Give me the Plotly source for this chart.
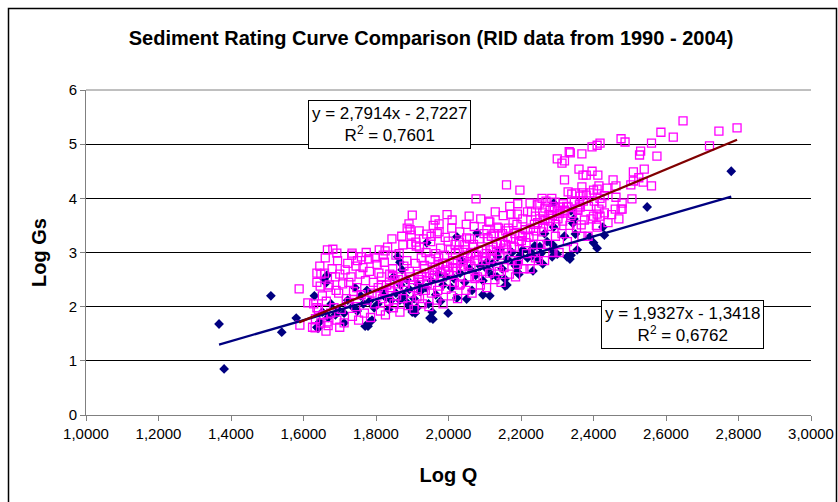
import plotly.graph_objects as go

# ---------------- data ----------------
# Series 1: dark-blue diamonds (Log Q, Log Gs)
blue_pts = [
    (1.367, 1.68), (1.381, 0.85), (1.51, 2.20), (1.54, 1.53), (1.58, 1.79), (1.63, 2.20),
    (2.78, 4.50), (2.548, 3.84),
    (1.665, 2.58), (1.662, 2.44), (1.657, 2.51), (1.712, 1.70), (1.637, 1.62), (1.64, 1.60),
    (2.29, 3.91), (2.338, 3.77), (2.346, 3.62), (2.343, 3.54), (2.35, 3.34), (2.426, 3.47),
    (2.43, 3.32), (2.39, 3.29), (2.40, 3.18), (2.41, 3.08), (2.355, 3.05), (2.32, 3.30),
    (2.288, 3.14), (2.286, 2.92), (2.30, 2.97), (2.327, 2.92), (2.335, 2.88), (2.338, 2.95),
    (2.26, 2.79), (2.247, 2.86), (2.233, 2.66), (2.225, 3.02), (2.23, 2.94), (2.252, 3.11),
    (2.194, 2.60), (2.156, 2.51), (2.156, 2.38), (2.19, 2.82), (2.18, 2.80), (2.29, 3.47),
    (2.023, 3.29), (2.079, 3.36), (2.106, 2.82), (2.12, 2.58), (2.134, 2.55), (2.161, 2.40),
    (2.19, 2.64), (2.095, 2.22), (2.114, 2.20), (2.05, 2.14), (2.023, 2.16), (1.999, 1.88),
    (1.955, 1.90), (1.949, 1.79), (1.908, 1.88), (1.894, 1.98), (1.783, 1.72), (1.77, 1.64),
    (1.872, 2.68), (1.866, 2.82), (1.94, 3.18), (1.86, 2.92), (1.778, 1.64), (1.789, 1.75),
    (1.90, 1.90), (1.913, 1.98), (1.957, 1.77), (1.866, 2.12), (1.886, 2.07),
    (1.645, 1.72), (1.668, 1.80), (1.652, 1.90), (1.688, 1.85), (1.676, 2.05), (1.695, 1.95),
    (1.712, 1.88), (1.735, 2.00), (1.722, 2.12), (1.748, 1.92), (1.765, 2.05), (1.758, 2.20),
    (1.782, 2.10), (1.795, 1.98), (1.775, 2.30), (1.742, 2.35),
    (1.805, 2.05), (1.825, 2.18), (1.818, 2.30), (1.842, 2.12), (1.855, 2.25), (1.868, 2.40),
    (1.835, 1.95), (1.878, 2.20), (1.892, 2.32), (1.885, 2.50), (1.848, 2.55),
    (1.905, 2.15), (1.922, 2.28), (1.915, 2.42), (1.938, 2.35), (1.952, 2.48), (1.965, 2.22),
    (1.972, 2.60), (1.985, 2.40), (1.993, 2.55), (1.945, 2.05), (1.978, 2.10),
    (2.008, 2.35), (2.015, 2.52), (2.032, 2.62), (2.045, 2.45), (2.058, 2.70), (2.065, 2.30),
    (2.075, 2.58), (2.088, 2.75), (2.095, 2.48), (2.038, 2.85),
    (2.108, 2.68), (2.122, 2.80), (2.135, 2.92), (2.148, 2.70), (2.162, 2.88), (2.175, 3.00),
    (2.185, 2.75), (2.198, 2.95), (2.142, 3.05),
    (2.205, 3.05), (2.218, 2.90), (2.238, 3.12), (2.255, 2.98), (2.272, 3.20), (2.285, 3.05),
    (2.265, 3.35),
]

# Series 2: magenta open squares (Log Q, Log Gs)
magenta_pts = [
    (2.647, 5.43), (2.586, 5.22), (2.62, 5.13), (2.746, 5.24), (2.796, 5.30), (2.72, 4.97),
    (2.56, 5.02), (2.575, 4.78), (2.53, 4.87), (2.527, 4.80), (2.487, 5.04), (2.476, 5.10),
    (2.54, 4.54), (2.51, 4.49), (2.525, 4.38), (2.51, 4.32), (2.537, 4.30), (2.503, 4.25),
    (2.56, 4.23), (2.506, 3.99), (2.479, 3.91), (2.479, 3.80),
    (2.418, 5.02), (2.41, 4.98), (2.396, 4.95), (2.368, 4.82), (2.333, 4.86), (2.336, 4.84),
    (2.30, 4.73), (2.32, 4.69), (2.313, 4.65), (2.36, 4.54), (2.396, 4.50), (2.38, 4.43),
    (2.371, 4.43), (2.412, 4.43), (2.32, 4.34), (2.454, 4.34), (2.415, 4.23), (2.437, 4.19),
    (2.462, 4.23), (2.368, 4.21), (2.40, 4.15), (2.41, 4.17), (2.16, 4.25), (2.197, 4.15),
    (2.33, 4.12), (2.34, 4.08), (2.35, 4.10), (2.363, 4.04), (2.371, 4.10), (2.38, 4.06),
    (2.39, 4.10), (2.285, 4.00), (2.294, 3.93), (2.418, 4.00), (2.423, 3.91), (2.462, 4.02),
    (2.46, 3.80), (2.476, 3.80), (2.252, 3.91), (2.225, 3.91), (2.266, 3.82), (2.28, 3.78),
    (2.26, 3.73), (2.24, 3.67), (2.308, 3.84), (2.32, 3.78), (2.33, 3.84), (2.30, 3.75),
    (2.363, 3.84), (2.357, 3.78), (2.366, 3.51), (2.41, 3.71), (2.40, 3.67), (2.418, 3.67),
    (2.43, 3.73), (2.41, 3.47),
    (2.076, 3.99), (1.90, 3.69), (2.057, 3.67), (2.01, 3.60), (1.974, 3.53), (1.963, 3.60),
    (1.891, 3.53), (1.974, 3.38), (1.94, 3.34), (1.952, 3.30), (1.894, 3.42), (1.897, 3.32),
    (2.172, 3.71), (2.19, 3.71), (2.114, 3.56), (2.134, 3.47), (2.106, 3.42), (2.05, 3.27),
    (2.03, 3.19), (1.999, 3.21), (1.874, 3.14), (1.91, 3.19), (1.92, 3.10), (1.825, 3.03),
    (1.588, 2.33), (1.612, 2.07), (1.637, 1.98), (1.681, 3.06), (1.692, 2.99), (1.66, 2.90),
    (1.734, 2.99), (1.637, 2.62), (1.648, 2.60), (1.646, 2.38), (1.668, 2.36), (1.665, 1.72),
    (1.632, 1.61), (1.662, 1.55), (1.59, 1.66), (1.70, 1.62),
    (1.625, 1.62), (1.648, 1.70), (1.633, 1.78), (1.655, 1.85), (1.641, 1.95), (1.628, 2.05),
    (1.652, 2.20), (1.637, 2.45), (1.658, 2.62), (1.645, 2.75),
    (1.668, 1.65), (1.692, 1.75), (1.675, 1.88), (1.684, 1.98), (1.663, 2.10), (1.697, 2.25),
    (1.671, 2.40), (1.688, 2.55), (1.679, 2.70), (1.694, 2.85), (1.666, 3.05),
    (1.712, 1.70), (1.735, 1.82), (1.704, 1.95), (1.726, 2.08), (1.718, 2.15), (1.738, 2.28),
    (1.708, 2.42), (1.731, 2.55), (1.715, 2.68), (1.722, 2.80), (1.733, 2.95),
    (1.752, 1.75), (1.768, 1.88), (1.744, 2.00), (1.776, 2.12), (1.759, 2.22), (1.747, 2.35),
    (1.771, 2.48), (1.756, 2.60), (1.764, 2.72), (1.749, 2.85), (1.773, 3.00),
    (1.785, 1.80), (1.812, 1.92), (1.796, 2.05), (1.818, 2.15), (1.789, 2.25), (1.806, 2.35),
    (1.793, 2.45), (1.815, 2.55), (1.782, 2.65), (1.803, 2.78), (1.798, 2.90), (1.809, 3.05),
    (1.826, 1.85), (1.848, 1.98), (1.835, 2.10), (1.857, 2.20), (1.841, 2.30), (1.829, 2.40),
    (1.852, 2.50), (1.838, 2.60), (1.846, 2.70), (1.823, 2.82), (1.855, 2.95), (1.832, 3.10),
    (1.844, 3.25),
    (1.866, 1.90), (1.889, 2.02), (1.874, 2.15), (1.895, 2.25), (1.862, 2.35), (1.881, 2.45),
    (1.869, 2.55), (1.892, 2.65), (1.877, 2.75), (1.885, 2.85), (1.864, 2.98), (1.898, 3.15),
    (1.871, 3.30), (1.886, 3.45),
    (1.905, 1.95), (1.928, 2.05), (1.913, 2.18), (1.936, 2.30), (1.902, 2.40), (1.921, 2.50),
    (1.917, 2.60), (1.933, 2.70), (1.908, 2.80), (1.925, 2.90), (1.938, 3.00), (1.911, 3.12),
    (1.931, 3.25), (1.919, 3.40),
    (1.946, 2.00), (1.968, 2.12), (1.953, 2.25), (1.975, 2.38), (1.942, 2.48), (1.961, 2.58),
    (1.957, 2.68), (1.972, 2.78), (1.949, 2.88), (1.965, 2.98), (1.978, 3.08), (1.951, 3.20),
    (1.969, 3.35), (1.958, 3.50),
    (1.985, 2.05), (2.008, 2.20), (1.993, 2.32), (2.016, 2.45), (1.982, 2.55), (2.001, 2.65),
    (1.997, 2.75), (2.012, 2.85), (1.989, 2.95), (2.005, 3.05), (2.018, 3.15), (1.991, 3.28),
    (2.009, 3.45), (1.996, 3.70),
    (2.025, 2.15), (2.048, 2.30), (2.033, 2.42), (2.055, 2.55), (2.022, 2.65), (2.041, 2.75),
    (2.037, 2.85), (2.052, 2.95), (2.029, 3.05), (2.045, 3.15), (2.058, 3.25), (2.031, 3.38),
    (2.049, 3.52),
    (2.065, 2.25), (2.088, 2.40), (2.073, 2.52), (2.095, 2.65), (2.062, 2.75), (2.081, 2.85),
    (2.077, 2.95), (2.092, 3.05), (2.069, 3.15), (2.085, 3.25), (2.098, 3.35), (2.071, 3.48),
    (2.089, 3.62),
    (2.105, 2.35), (2.128, 2.50), (2.113, 2.62), (2.135, 2.75), (2.102, 2.85), (2.121, 2.95),
    (2.117, 3.05), (2.132, 3.15), (2.109, 3.25), (2.125, 3.35), (2.138, 3.45), (2.111, 3.58),
    (2.129, 3.75),
    (2.145, 2.45), (2.168, 2.60), (2.153, 2.72), (2.175, 2.85), (2.142, 2.95), (2.161, 3.05),
    (2.157, 3.15), (2.172, 3.25), (2.149, 3.35), (2.165, 3.45), (2.178, 3.55), (2.151, 3.68),
    (2.169, 3.85),
    (2.185, 2.55), (2.208, 2.70), (2.193, 2.85), (2.215, 2.98), (2.182, 3.10), (2.201, 3.22),
    (2.197, 3.32), (2.212, 3.42), (2.189, 3.52), (2.205, 3.62), (2.218, 3.75), (2.191, 3.90),
    (2.225, 2.70), (2.248, 2.85), (2.233, 3.00), (2.255, 3.15), (2.222, 3.28), (2.241, 3.40),
    (2.237, 3.52), (2.252, 3.62), (2.229, 3.75), (2.245, 3.88), (2.258, 4.00),
    (2.265, 2.85), (2.288, 3.00), (2.273, 3.15), (2.295, 3.30), (2.262, 3.45), (2.281, 3.58),
    (2.277, 3.70), (2.292, 3.82), (2.269, 3.95),
    (2.305, 3.00), (2.328, 3.20), (2.313, 3.35), (2.335, 3.50), (2.302, 3.62), (2.321, 3.75),
    (2.317, 3.90),
    (2.345, 3.10), (2.368, 3.30), (2.353, 3.45), (2.375, 3.60), (2.342, 3.72), (2.361, 3.88),
    (2.385, 3.30), (2.408, 3.50), (2.393, 3.62), (2.415, 3.80), (2.402, 3.95),
    (2.44, 3.55), (2.45, 3.70), (2.47, 3.62), (2.43, 4.05),
    # dense band between / around the two trendlines
    (1.803, 2.20), (1.822, 2.28), (1.815, 2.40), (1.838, 2.35), (1.851, 2.42), (1.862, 2.50),
    (1.878, 2.38), (1.893, 2.55), (1.808, 2.62), (1.845, 2.58),
    (1.903, 2.35), (1.918, 2.45), (1.927, 2.55), (1.941, 2.42), (1.947, 2.62), (1.956, 2.52),
    (1.963, 2.72), (1.977, 2.62), (1.984, 2.80), (1.992, 2.68), (1.934, 2.76), (1.973, 2.90),
    (2.003, 2.58), (2.011, 2.72), (2.024, 2.80), (2.035, 2.68), (2.043, 2.90), (2.054, 2.78),
    (2.061, 2.98), (2.072, 2.85), (2.083, 3.02), (2.094, 2.92), (2.019, 2.98), (2.067, 3.10),
    (2.046, 3.05),
    (2.104, 2.98), (2.115, 2.88), (2.123, 3.10), (2.133, 3.02), (2.144, 3.18), (2.152, 3.08),
    (2.163, 3.28), (2.174, 3.12), (2.183, 3.35), (2.195, 3.20), (2.118, 3.30), (2.158, 3.40),
    (2.204, 3.30), (2.214, 3.18), (2.226, 3.45), (2.235, 3.30), (2.246, 3.55), (2.257, 3.38),
    (2.266, 3.60), (2.276, 3.48), (2.287, 3.68), (2.296, 3.52),
    (2.306, 3.72), (2.315, 3.58), (2.326, 3.85), (2.338, 3.68), (2.347, 3.95), (2.356, 3.80),
    (2.372, 3.95), (2.386, 3.85),
    (1.70, 2.60), (1.745, 2.75), (1.78, 2.88), (1.76, 2.92), (1.82, 2.95), (1.725, 2.45),
    (1.69, 2.30),
    (1.85, 2.05), (1.92, 2.15), (1.97, 2.30), (2.03, 2.40), (2.08, 2.55), (2.14, 2.65),
    (2.19, 2.78), (2.24, 2.90),
]

blue_q = [p[0] for p in blue_pts]
blue_gs = [p[1] for p in blue_pts]
mag_q = [p[0] for p in magenta_pts]
mag_gs = [p[1] for p in magenta_pts]

# Trendline coefficients shown on the chart
mag_slope, mag_intercept, mag_r2 = 2.7914, -2.7227, 0.7601
blue_slope, blue_intercept, blue_r2 = 1.9327, -1.3418, 0.6762

x_tick_vals = [1.0, 1.2, 1.4, 1.6, 1.8, 2.0, 2.2, 2.4, 2.6, 2.8, 3.0]
x_tick_text = ["1,0000", "1,2000", "1,4000", "1,6000", "1,8000", "2,0000",
               "2,2000", "2,4000", "2,6000", "2,8000", "3,0000"]
y_tick_vals = [0, 1, 2, 3, 4, 5, 6]

title_text = "Sediment Rating Curve Comparison (RID data from 1990 - 2004)"
x_title = "Log Q"
y_title = "Log Gs"


def fmt(v):
    return f"{v:.4f}".replace(".", ",")


def eq_text(s, b, r2):
    sign = "-" if b < 0 else "+"
    return f"y = {fmt(s)}x {sign} {fmt(abs(b))}<br>R<sup>2</sup> = {fmt(r2)}"


FONT = "Liberation Sans, Arial, sans-serif"

W, H = 838, 502
L, T = 86, 90           # plot area top-left in page px
PW, PH = 725, 325       # plot area size

fig = go.Figure()

fig.add_trace(go.Scatter(
    x=blue_q, y=blue_gs, mode="markers", name="blue",
    marker=dict(symbol="diamond", size=7.5, color="#000080", line=dict(width=0)),
))
fig.add_trace(go.Scatter(
    x=mag_q, y=mag_gs, mode="markers", name="magenta",
    marker=dict(symbol="square-open", size=8, color="#FF00FF", line=dict(width=1.3, color="#FF00FF")),
))

# trendlines over each series' x-range
bx = [min(blue_q), max(blue_q)]
mx = [min(mag_q), max(mag_q)]
fig.add_trace(go.Scatter(
    x=bx, y=[blue_slope * v + blue_intercept for v in bx], mode="lines",
    line=dict(color="#000080", width=2.3),
))
fig.add_trace(go.Scatter(
    x=mx, y=[mag_slope * v + mag_intercept for v in mx], mode="lines",
    line=dict(color="#800000", width=2.3),
))

fig.update_layout(
    width=W, height=H,
    margin=dict(l=L, r=W - L - PW, t=T, b=H - T - PH, autoexpand=False),
    paper_bgcolor="white", plot_bgcolor="white",
    showlegend=False,
    font=dict(family=FONT, color="black", size=15),
    title=dict(text=f"<b>{title_text}</b>", x=431 / W, xanchor="center",
               y=1 - 38 / H, yanchor="middle", font=dict(size=20, family=FONT)),
    xaxis=dict(
        range=[1.0, 3.0], tickvals=x_tick_vals, ticktext=x_tick_text,
        showgrid=False, zeroline=False, showline=True, linecolor="#808080", linewidth=1,
        ticks="outside", ticklen=5, tickcolor="#808080",
        tickfont=dict(size=15, family=FONT),
        title=dict(text=f"<b>{x_title}</b>", font=dict(size=20, family=FONT), standoff=26),
    ),
    yaxis=dict(
        range=[0, 6], tickvals=y_tick_vals,
        showgrid=True, gridcolor="black", gridwidth=1, zeroline=False,
        showline=True, linecolor="#808080", linewidth=1,
        ticks="outside", ticklen=5, tickcolor="#808080",
        tickfont=dict(size=15, family=FONT),
        title=dict(text=f"<b>{y_title}</b>", font=dict(size=20, family=FONT), standoff=16),
    ),
    annotations=[
        dict(x=1.836, y=5.372, xref="x", yref="y", text=eq_text(mag_slope, mag_intercept, mag_r2),
             showarrow=False, bgcolor="white", bordercolor="black", borderwidth=1, borderpad=3,
             font=dict(size=17, family=FONT), align="center"),
        dict(x=2.6455, y=1.671, xref="x", yref="y", text=eq_text(blue_slope, blue_intercept, blue_r2),
             showarrow=False, bgcolor="white", bordercolor="black", borderwidth=1, borderpad=3,
             font=dict(size=17, family=FONT), align="center"),
    ],
    shapes=[
        # outer chart-area border
        dict(type="rect", xref="paper", yref="paper",
             x0=(8.5 - L) / PW, x1=(836.5 - L) / PW,
             y0=(T + PH - 530) / PH, y1=(T + PH - 8.5) / PH,
             line=dict(color="black", width=1.5), fillcolor="rgba(0,0,0,0)", layer="below"),
        dict(type="line", xref="paper", yref="paper", x0=0, x1=1, y0=1, y1=1,
             line=dict(color="#808080", width=1)),
    ],
)

fig.write_html(
    "out.html",
    config={"displayModeBar": False},
    post_script="document.body.style.margin='0';document.body.style.overflow='hidden';"
                "document.documentElement.style.overflow='hidden';",
)
